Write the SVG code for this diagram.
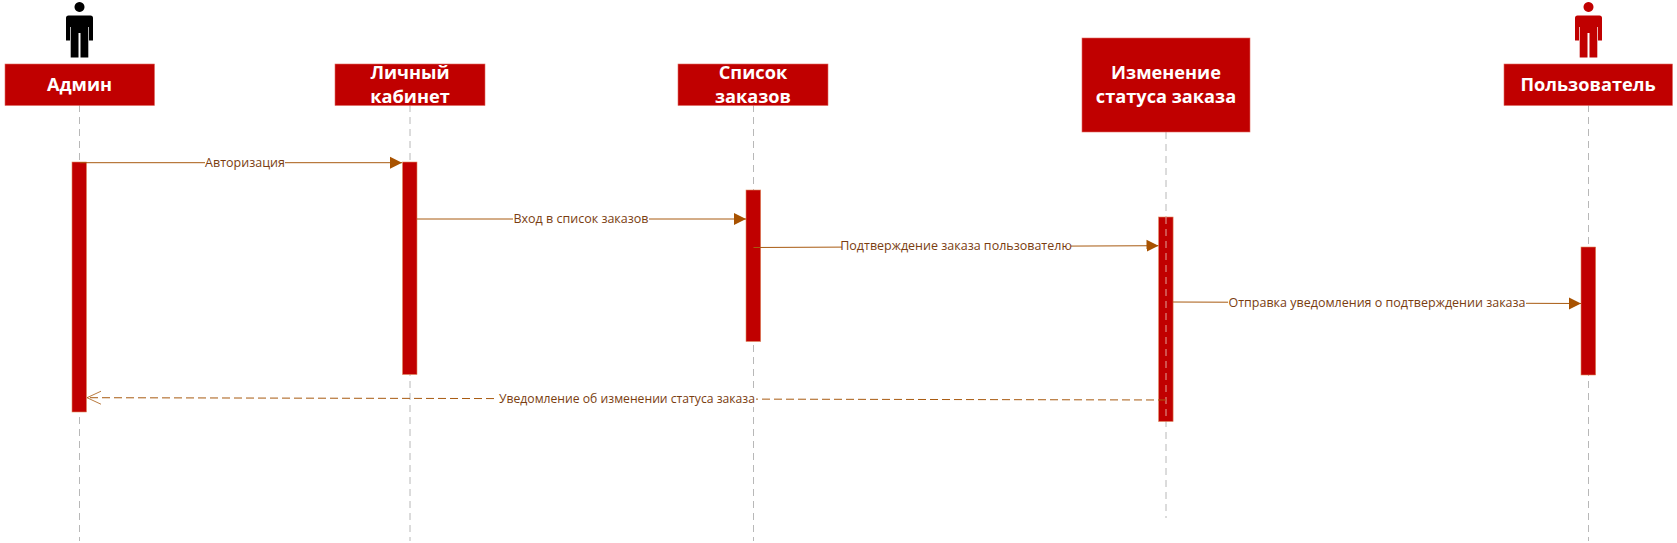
<svg xmlns="http://www.w3.org/2000/svg" width="1677" height="543" viewBox="0 0 1677 543">
<style>
.box{fill:#c00000;stroke:#e06a60;stroke-width:.6}
.act{fill:#c00000;stroke:#e08a60;stroke-width:.6}
.life{stroke:#b8b8b8;stroke-width:1;stroke-dasharray:7 5;fill:none}
.inner{stroke:#e0a098;stroke-width:1;stroke-dasharray:7 5;fill:none}
.msg{stroke:#a85a10;stroke-width:1;fill:none}
.dash{stroke-dasharray:8 4}
.t{font-family:"Open Sans","Liberation Sans",sans-serif;font-weight:700;font-size:18.200px;fill:#fff;text-anchor:middle}
.l{font-family:"Open Sans","Liberation Sans",sans-serif;font-size:12.500px;fill:#7a3d10;text-anchor:middle}
.bg{fill:#fff}
</style>
<defs>
<marker id="solid" markerUnits="userSpaceOnUse" markerWidth="12" markerHeight="14" refX="12" refY="7" orient="auto"><path d="M0 1 L12 7 L0 13 Z" fill="#a85200"/></marker>
<marker id="open" markerUnits="userSpaceOnUse" markerWidth="14" markerHeight="16" refX="14" refY="7" orient="auto"><path d="M0 .5 L14 7 L0 13.500" fill="none" stroke="#a85a10" stroke-width=".8"/></marker>
<path id="person" d="M0 2a5 5 0 1 0 .01 0ZM-11 15.500H11Q13.500 15.500 13.500 18V40.500H9.500V27H8.800V57.500H1V33H-1V57.500H-8.800V27H-9.500V40.500H-13.500V18Q-13.500 15.500-11 15.500Z"/>
</defs>
<g id="connectors">
<path class="life" d="M79.500 105V541"/>
<path class="life" d="M410 105V541"/>
<path class="life" d="M753.500 105V541"/>
<path class="life" d="M1166 132V518"/>
<path class="life" d="M1588.500 105V541"/>
</g>
<g id="admin"><use href="#person" x="79.500" y="0" fill="#000"/><rect class="box" x="5" y="64" width="149.500" height="41.500"/><text class="t" x="79.500" y="91">Админ</text><rect class="act" x="72" y="162" width="14.500" height="250"/></g>
<g id="cabinet"><rect class="box" x="335" y="64" width="150" height="41.500"/><text class="t" x="410" y="79">Личный</text><text class="t" x="410" y="103">кабинет</text><rect class="act" x="402.500" y="162" width="14.500" height="212.500"/></g>
<g id="orders"><rect class="box" x="678" y="64" width="150" height="41.500"/><text class="t" x="753" y="79">Список</text><text class="t" x="753" y="103">заказов</text><rect class="act" x="746" y="190" width="14.700" height="151.500"/></g>
<g id="status"><rect class="box" x="1082" y="38" width="168" height="94"/><text class="t" x="1166" y="79">Изменение</text><text class="t" x="1166" y="103">статуса заказа</text><rect class="act" x="1158.600" y="217" width="14.500" height="204.500"/><path class="inner" d="M1166 217V421"/></g>
<g id="user"><use href="#person" x="1588.500" y="0" fill="#c00000"/><rect class="box" x="1504" y="64" width="168.500" height="41.500"/><text class="t" x="1588" y="91">Пользователь</text><rect class="act" x="1581" y="247" width="14.700" height="128"/></g>
<g id="messages">
<path class="msg" d="M80 162.700H402" marker-end="url(#solid)"/><rect class="bg" x="205" y="154" width="80" height="17"/><text class="l" x="245" y="167">Авторизация</text>
<path class="msg" d="M417 219H746" marker-end="url(#solid)"/><rect class="bg" x="513" y="210" width="136" height="17"/><text class="l" x="581" y="223">Вход в список заказов</text>
<path class="msg" d="M753.500 247.500L1158.500 245.700" marker-end="url(#solid)"/><rect class="bg" x="842" y="238" width="229" height="17"/><text class="l" x="956" y="250">Подтверждение заказа пользователю</text>
<path class="msg" d="M1173 302L1581 303.500" marker-end="url(#solid)"/><rect class="bg" x="1228" y="294" width="298" height="17"/><text class="l" x="1377" y="307">Отправка уведомления о подтверждении заказа</text>
<path class="msg dash" d="M1166 400L87 397.700" marker-end="url(#open)"/><rect class="bg" x="498" y="390" width="258" height="17"/><text class="l" x="627" y="403" textLength="256" lengthAdjust="spacingAndGlyphs">Уведомление об изменении статуса заказа</text>
</g>
</svg>
